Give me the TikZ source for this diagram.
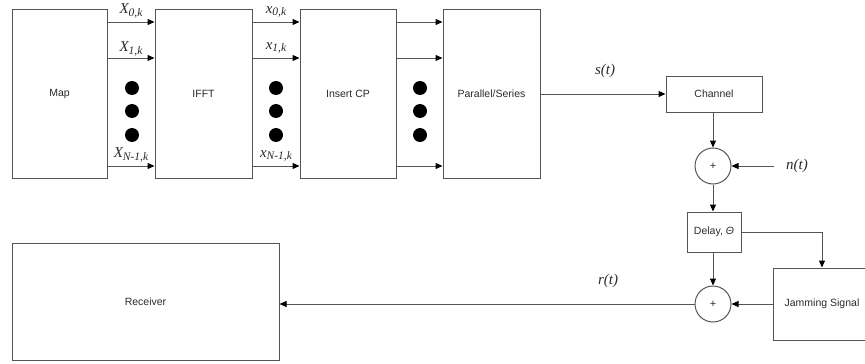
\documentclass[tikz,border=0pt]{standalone}
\usepackage{fontspec}
\setmainfont{Liberation Sans}
\newfontfamily\labfont{Liberation Serif}
\usetikzlibrary{arrows.meta}
\definecolor{ln}{HTML}{555555}
\definecolor{tx}{HTML}{2a2a2a}
\newcommand\sublab[2]{{\labfont\itshape\fontsize{15}{15}\selectfont #1\raisebox{-0.35ex}{\fontsize{11.5}{11.5}\selectfont #2}}}
\newcommand\siglab[1]{{\labfont\itshape\fontsize{15}{15}\selectfont #1}}
\begin{document}
\begin{tikzpicture}[x=1pt,y=-1pt,
  blk/.style={draw=ln,line width=1pt,rectangle,inner sep=0pt,text=tx,font=\fontsize{10.5}{12}\selectfont},
  addr/.style={draw=ln,line width=1pt,circle,inner sep=0pt,minimum size=36pt,text=tx,font=\fontsize{11}{12}\selectfont},
  arr/.style={draw=ln,line width=1pt,-{Triangle[length=7pt,width=6pt,color=black]}},
  ln/.style={draw=ln,line width=1pt},
  dotc/.style={circle,fill=black,inner sep=0pt,minimum size=14pt},
  lab/.style={inner sep=0pt,text=tx}]
\useasboundingbox (0,0) rectangle (865,364);
% blocks
\node[blk,minimum width=95pt,minimum height=169pt] (map) at (59.5,93.5) {Map};
\node[blk,minimum width=97pt,minimum height=169pt] (ifft) at (203.5,93.5) {IFFT};
\node[blk,minimum width=96pt,minimum height=169pt] (cp) at (348,93.5) {Insert CP};
\node[blk,minimum width=97pt,minimum height=169pt] (ps) at (491.5,93.5) {Parallel/Series};
\node[blk,minimum width=96pt,minimum height=36pt] (ch) at (714,94) {Channel};
\node[addr] (add1) at (713,166) {+};
\node[blk,minimum width=54pt,minimum height=40pt] (del) at (714,232) {Delay, \textit{Θ}};
\node[addr] (add2) at (713,304) {+};
\node[blk,minimum width=97pt,minimum height=72pt] (jam) at (822,304) {Jamming Signal};
\node[blk,minimum width=267pt,minimum height=117pt] (rx) at (145.5,302) {Receiver};
% rows
\coordinate (r1) at (0,22);
\coordinate (r2) at (0,58);
\coordinate (r3) at (0,166);
\foreach \a/\b in {map/ifft,ifft/cp,cp/ps}{
  \foreach \r in {r1,r2,r3}{
    \draw[arr] (\a.east |- \r) -- (\b.west |- \r);
  }
}
% dots
\foreach \x/\n in {132/a,276/b,420/c}{
  \node[dotc] (d1\n) at (\x,88) {};
  \node[dotc] (d2\n) at (\x,111) {};
  \node[dotc] (d3\n) at (\x,135) {};
}
% labels
\node[lab] (lX0) at (131,11) {\sublab{X}{0,k}};
\node[lab] (lX1) at (131,49) {\sublab{X}{1,k}};
\node[lab] (lXN) at (131,155) {\sublab{X}{N-1,k}};
\node[lab] (lx0) at (276,12) {\sublab{x}{0,k}};
\node[lab] (lx1) at (276,48) {\sublab{x}{1,k}};
\node[lab] (lxN) at (276,156) {\sublab{x}{N-1,k}};
% channel chain
\draw[arr] (ps.east |- ch) -- (ch.west);
\node[lab] (st) at (605,71) {\siglab{s(t)}};
\draw[arr] (ch.south -| add1) -- (add1.north);
\coordinate (nstart) at (774,166);
\draw[arr] (nstart) -- (add1.east);
\node[lab] (nt) at (797,166) {\siglab{n(t)}};
\draw[arr] (add1.south) -- (del.north -| add1);
\draw[arr] (del.south -| add2) -- (add2.north);
\coordinate (jtop) at (822,232);
\draw[ln] (del.east) -- (jtop);
\draw[arr] (jtop) -- (jam.north);
\draw[arr] (jam.west) -- (add2.east);
\draw[arr] (add2.west) -- (rx.east |- add2);
\node[lab] (rt) at (608,281) {\siglab{r(t)}};
\end{tikzpicture}
\end{document}
